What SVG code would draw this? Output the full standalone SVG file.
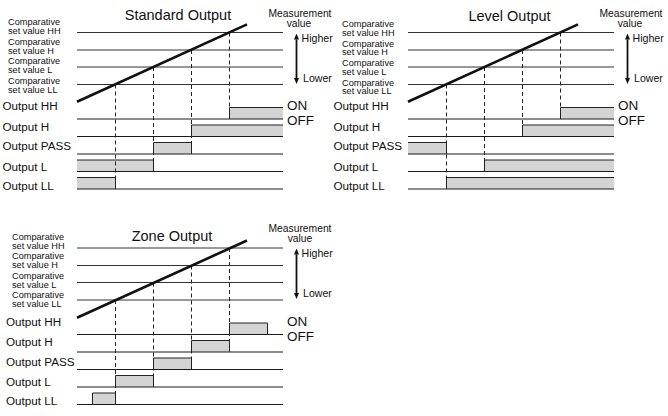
<svg xmlns="http://www.w3.org/2000/svg" width="668" height="416" viewBox="0 0 668 416">
<style>
text{font-family:"Liberation Sans",Arial,Helvetica,sans-serif;fill:#111}
.title{font-size:14.5px;text-anchor:middle}
.cmp{font-size:9.2px}
.out{font-size:11.7px}
.meas{font-size:10.3px;text-anchor:middle}
.hl{font-size:10.6px}
.onoff{font-size:13.5px}
.thr{fill:none;stroke:#333;stroke-width:1}
.base{fill:none;stroke:#1a1a1a;stroke-width:1}
.ramp{fill:none;stroke:#111;stroke-width:2.6}
.dash{fill:none;stroke:#222;stroke-width:1;stroke-dasharray:4 3}
.box{fill:#d4d4d4;stroke:none}
.edge{fill:none;stroke:#222;stroke-width:1}
.arr{stroke:#111;stroke-width:1.8;marker-start:url(#ah);marker-end:url(#ah)}
</style>
<defs>
<marker id="ah" viewBox="0 0 6 5" refX="0" refY="2.5" markerWidth="6" markerHeight="5" markerUnits="userSpaceOnUse" orient="auto-start-reverse"><path d="M0,0 L6,2.5 L0,5 z" fill="#111"/></marker>
<g id="grid">
<path class="thr" d="M77,32.5H283M77,50H283M77,67H283M77,84.5H283"/>
<path class="base" d="M77,119H283M77,136.5H283M77,154H283M77,171.5H283M77,189H283"/>
</g>
</defs>

<!-- Standard Output -->
<g id="standard">
<text class="title" x="178" y="20">Standard Output</text>
<g id="standard-labels">
<text class="cmp" x="8" y="25.3">Comparative</text><text class="cmp" x="8" y="34">set value HH</text>
<text class="cmp" x="8" y="44.8">Comparative</text><text class="cmp" x="8" y="53.5">set value H</text>
<text class="cmp" x="8" y="64.3">Comparative</text><text class="cmp" x="8" y="73">set value L</text>
<text class="cmp" x="8" y="83.8">Comparative</text><text class="cmp" x="8" y="92.5">set value LL</text>
<text class="out" x="2.5" y="110">Output HH</text>
<text class="out" x="2.5" y="130.5">Output H</text>
<text class="out" x="2.5" y="150">Output PASS</text>
<text class="out" x="2.5" y="170.5">Output L</text>
<text class="out" x="2.5" y="189.5">Output LL</text>
</g>
<g id="standard-chart">
<rect class="box" x="229.5" y="107.5" width="53.5" height="11.5"/>
<rect class="box" x="191.5" y="125" width="91.5" height="11.5"/>
<rect class="box" x="153.5" y="142.5" width="38" height="11.5"/>
<rect class="box" x="77" y="160" width="76.5" height="11.5"/>
<rect class="box" x="77" y="177.5" width="38.5" height="11.5"/>
<use href="#grid"/>
<path class="dash" d="M115.5,84.5V189M153.5,67V171.5M191.5,50V154M229.5,32.5V119"/>
<path class="edge" d="M229.5,119V107.5H283M191.5,136.5V125H283M153.5,154V142.5H191.5V154M77,160H153.5V171.5M77,177.5H115.5V189"/>
<path class="ramp" d="M77,101.8L247,24.4"/>
</g>
<g id="standard-scale">
<text class="meas" x="300" y="17">Measurement</text>
<text class="meas" x="299" y="27">value</text>
<line class="arr" x1="296.5" y1="39.5" x2="296.5" y2="78"/>
<text class="hl" x="301.5" y="42">Higher</text>
<text class="hl" x="303" y="82">Lower</text>
<text class="onoff" x="287" y="110">ON</text>
<text class="onoff" x="287" y="125">OFF</text>
</g>
</g>

<!-- Level Output -->
<g id="level">
<text class="title" x="509.5" y="20.5">Level Output</text>
<g id="level-labels">
<text class="cmp" x="342" y="27">Comparative</text><text class="cmp" x="342" y="35.6">set value HH</text>
<text class="cmp" x="342" y="46.5">Comparative</text><text class="cmp" x="342" y="55.1">set value H</text>
<text class="cmp" x="342" y="66">Comparative</text><text class="cmp" x="342" y="74.6">set value L</text>
<text class="cmp" x="342" y="85.5">Comparative</text><text class="cmp" x="342" y="94.1">set value LL</text>
<text class="out" x="333.5" y="110">Output HH</text>
<text class="out" x="333.5" y="130.5">Output H</text>
<text class="out" x="333.5" y="150">Output PASS</text>
<text class="out" x="333.5" y="170.5">Output L</text>
<text class="out" x="333.5" y="189.5">Output LL</text>
</g>
<g id="level-chart" transform="translate(331,0)">
<rect class="box" x="229.5" y="107.5" width="53.5" height="11.5"/>
<rect class="box" x="191.5" y="125" width="91.5" height="11.5"/>
<rect class="box" x="77" y="142.5" width="38.5" height="11.5"/>
<rect class="box" x="153.5" y="160" width="129.5" height="11.5"/>
<rect class="box" x="115.5" y="177.5" width="167.5" height="11.5"/>
<use href="#grid"/>
<path class="dash" d="M115.5,84.5V189M153.5,67V171.5M191.5,50V136.5M229.5,32.5V119"/>
<path class="edge" d="M229.5,119V107.5H283M191.5,136.5V125H283M77,142.5H115.5V154M153.5,171.5V160H283M115.5,189V177.5H283"/>
<path class="ramp" d="M77,101.8L247,24.4"/>
</g>
<g id="level-scale">
<text class="meas" x="631" y="17">Measurement</text>
<text class="meas" x="630" y="27">value</text>
<line class="arr" x1="627.5" y1="39.5" x2="627.5" y2="78"/>
<text class="hl" x="632.5" y="41.5">Higher</text>
<text class="hl" x="634" y="82">Lower</text>
<text class="onoff" x="618" y="110">ON</text>
<text class="onoff" x="618" y="125">OFF</text>
</g>
</g>

<!-- Zone Output -->
<g id="zone">
<text class="title" x="172" y="240.5">Zone Output</text>
<g id="zone-labels">
<text class="cmp" x="12" y="239.5">Comparative</text><text class="cmp" x="12" y="248.5">set value HH</text>
<text class="cmp" x="12" y="259">Comparative</text><text class="cmp" x="12" y="268">set value H</text>
<text class="cmp" x="12" y="278.5">Comparative</text><text class="cmp" x="12" y="287.5">set value L</text>
<text class="cmp" x="12" y="298">Comparative</text><text class="cmp" x="12" y="307">set value LL</text>
<text class="out" x="6" y="325.5">Output HH</text>
<text class="out" x="6" y="346">Output H</text>
<text class="out" x="6" y="365.5">Output PASS</text>
<text class="out" x="6" y="386">Output L</text>
<text class="out" x="6" y="405">Output LL</text>
</g>
<g id="zone-chart" transform="translate(0,215.5)">
<rect class="box" x="229.5" y="107.5" width="38" height="11.5"/>
<rect class="box" x="191.5" y="125" width="38" height="11.5"/>
<rect class="box" x="153.5" y="142.5" width="38" height="11.5"/>
<rect class="box" x="115.5" y="160" width="38" height="11.5"/>
<rect class="box" x="92.5" y="177.5" width="23" height="11.5"/>
<use href="#grid"/>
<path class="dash" d="M115.5,84.5V189M153.5,67V171.5M191.5,50V154M229.5,32.5V136.5"/>
<path class="edge" d="M229.5,119V107.5H267.5V119M191.5,136.5V125H229.5V136.5M153.5,154V142.5H191.5V154M115.5,171.5V160H153.5V171.5M92.5,189V177.5H115.5V189"/>
<path class="ramp" d="M77,102.2L247,25"/>
</g>
<g id="zone-scale">
<text class="meas" x="300" y="231.7">Measurement</text>
<text class="meas" x="300" y="242.3">value</text>
<line class="arr" x1="296.5" y1="254.5" x2="296.5" y2="293"/>
<text class="hl" x="301.5" y="257.3">Higher</text>
<text class="hl" x="303" y="297.3">Lower</text>
<text class="onoff" x="287" y="325.5">ON</text>
<text class="onoff" x="287" y="340.5">OFF</text>
</g>
</g>
</svg>
